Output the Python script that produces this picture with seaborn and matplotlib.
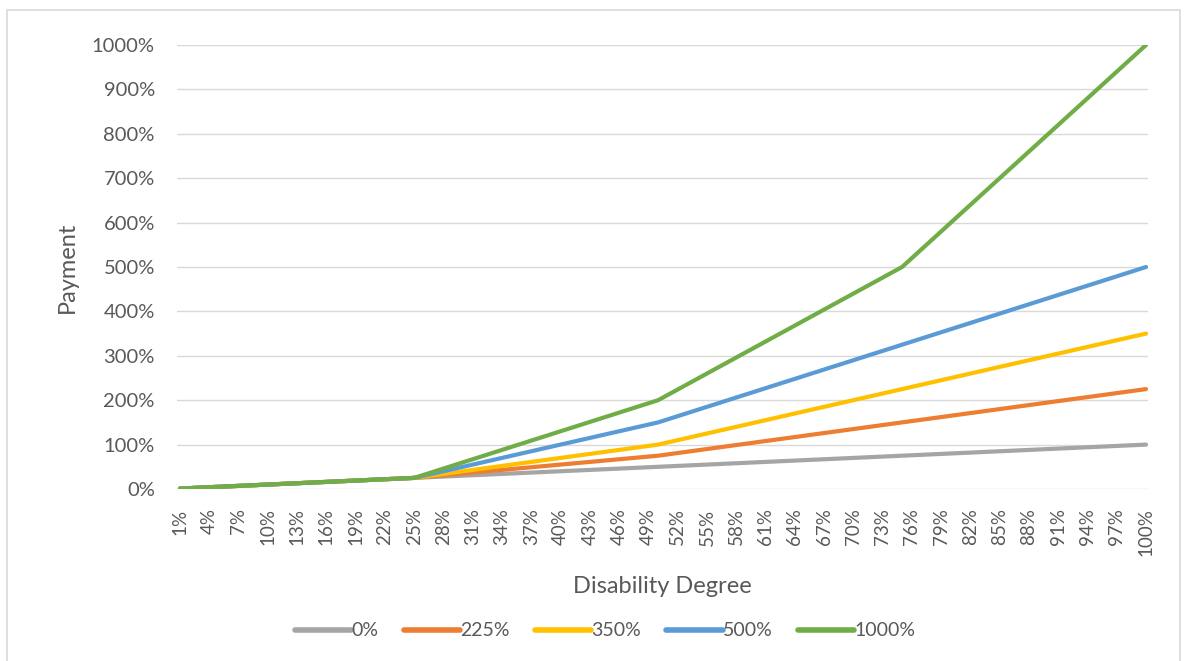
import matplotlib
matplotlib.use("Agg")
import matplotlib.pyplot as plt
import seaborn as sns
import pandas as pd
from matplotlib.lines import Line2D

# Disability degree (percent) and payment (percent) for each progression
degree = list(range(1, 101))

base = list(range(1, 26))

pay_0 = list(range(1, 101))

pay_225 = base + [
    27, 29, 31, 33, 35, 37, 39, 41, 43, 45, 47, 49, 51, 53, 55, 57, 59, 61, 63, 65, 67, 69, 71, 73, 75,
    78, 81, 84, 87, 90, 93, 96, 99, 102, 105, 108, 111, 114, 117, 120, 123, 126, 129, 132, 135,
    138, 141, 144, 147, 150, 153, 156, 159, 162, 165, 168, 171, 174, 177, 180, 183, 186, 189, 192,
    195, 198, 201, 204, 207, 210, 213, 216, 219, 222, 225,
]

pay_350 = base + [
    28, 31, 34, 37, 40, 43, 46, 49, 52, 55, 58, 61, 64, 67, 70, 73, 76, 79, 82, 85, 88, 91, 94, 97, 100,
    105, 110, 115, 120, 125, 130, 135, 140, 145, 150, 155, 160, 165, 170, 175, 180, 185, 190, 195, 200,
    205, 210, 215, 220, 225, 230, 235, 240, 245, 250, 255, 260, 265, 270, 275, 280, 285, 290, 295,
    300, 305, 310, 315, 320, 325, 330, 335, 340, 345, 350,
]

pay_500 = base + [
    30, 35, 40, 45, 50, 55, 60, 65, 70, 75, 80, 85, 90, 95, 100, 105, 110, 115, 120, 125, 130, 135, 140, 145, 150,
    157, 164, 171, 178, 185, 192, 199, 206, 213, 220, 227, 234, 241, 248, 255, 262, 269, 276, 283, 290,
    297, 304, 311, 318, 325, 332, 339, 346, 353, 360, 367, 374, 381, 388, 395, 402, 409, 416, 423,
    430, 437, 444, 451, 458, 465, 472, 479, 486, 493, 500,
]

pay_1000 = base + [
    32, 39, 46, 53, 60, 67, 74, 81, 88, 95, 102, 109, 116, 123, 130, 137, 144, 151, 158, 165, 172, 179, 186, 193, 200,
    212, 224, 236, 248, 260, 272, 284, 296, 308, 320, 332, 344, 356, 368, 380, 392, 404, 416, 428, 440,
    452, 464, 476, 488, 500,
    520, 540, 560, 580, 600, 620, 640, 660, 680, 700, 720, 740, 760, 780, 800, 820, 840, 860, 880, 900,
    920, 940, 960, 980, 1000,
]

series_names = ["0%", "225%", "350%", "500%", "1000%"]
series_values = [pay_0, pay_225, pay_350, pay_500, pay_1000]
series_colors = ["#A5A5A5", "#ED7D31", "#FFC000", "#5B9BD5", "#70AD47"]

y_ticks = list(range(0, 1001, 100))
x_tick_positions = list(range(1, 101, 3))

frames = []
for name, vals in zip(series_names, series_values):
    frames.append(pd.DataFrame({"degree": degree, "payment": vals, "series": name}))
df = pd.concat(frames, ignore_index=True)

sns.set_theme(style="white")
plt.rcParams["font.family"] = ["Lato", "DejaVu Sans"]

W, H = 1186, 661
fig = plt.figure(figsize=(W / 100, H / 100), dpi=100)
fig.patch.set_facecolor("white")
ax = fig.add_axes([177 / W, 1 - 489 / H, (1148 - 177) / W, (489 - 45) / H])

palette = dict(zip(series_names, series_colors))
sns.lineplot(data=df, x="degree", y="payment", hue="series", hue_order=series_names,
             palette=palette, linewidth=3.0, ax=ax, legend=False, solid_capstyle="round")

ax.set_xlim(0.7, 100.2)
ax.set_ylim(0, 1000)
ax.set_yticks(y_ticks)
ax.set_yticklabels([f"{v}%" for v in y_ticks])
ax.set_xticks(x_tick_positions)
ax.set_xticklabels([f"{v}%" for v in x_tick_positions], rotation=90, va="top", ha="center")

text_color = "#595959"
ax.tick_params(axis="y", labelsize=14.5, colors=text_color, length=0, pad=16)
ax.tick_params(axis="x", labelsize=13.5, colors=text_color, length=0, pad=14)
ax.yaxis.grid(True, color="#D9D9D9", linewidth=1.0)
ax.set_axisbelow(True)
for s in ax.spines.values():
    s.set_visible(False)

ax.set_xlabel("Disability Degree", fontsize=17, color=text_color, labelpad=14)
ax.set_ylabel("Payment", fontsize=17, color=text_color, labelpad=10)

handles = [Line2D([0], [0], color=c, linewidth=4, solid_capstyle="round") for c in series_colors]
fig.legend(handles, series_names, loc="center", bbox_to_anchor=(605 / W, 1 - 631 / H), ncol=5,
           frameon=False, fontsize=14, handlelength=2.9, handletextpad=0.0, columnspacing=1.3,
           labelcolor=text_color)

# Chart area frame
frame = plt.Rectangle((7 / W, -0.01), (1180 - 7) / W, 1 - 10 / H + 0.01, transform=fig.transFigure,
                      fill=False, edgecolor="#D9D9D9", linewidth=1.2)
fig.patches.append(frame)

fig.savefig("out.png", dpi=100, facecolor="white")
